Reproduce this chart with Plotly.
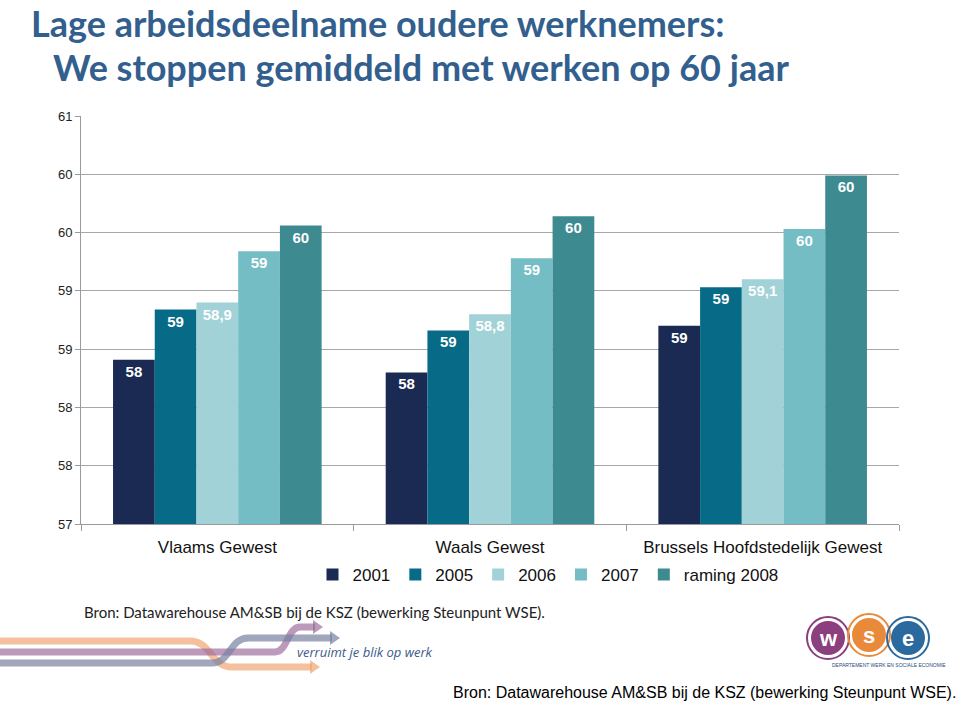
import plotly.graph_objects as go

# ---- data ----
categories = ["Vlaams Gewest", "Waals Gewest", "Brussels Hoofdstedelijk Gewest"]
series_names = ["2001", "2005", "2006", "2007", "raming 2008"]
values_2001 = [58.41, 58.30, 58.70]
values_2005 = [58.84, 58.66, 59.03]
values_2006 = [58.90, 58.80, 59.10]
values_2007 = [59.34, 59.28, 59.53]
values_2008 = [59.56, 59.64, 59.99]
labels_2001 = ["58", "58", "59"]
labels_2005 = ["59", "59", "59"]
labels_2006 = ["58,9", "58,8", "59,1"]
labels_2007 = ["59", "59", "60"]
labels_2008 = ["60", "60", "60"]
y_tickvals = [57, 57.5, 58, 58.5, 59, 59.5, 60, 60.5]
y_ticktext = ["57", "58", "58", "59", "59", "60", "60", "61"]

colors = ["#1B2A52", "#076B87", "#A1D2D7", "#74BDC4", "#3E8A91"]
all_values = [values_2001, values_2005, values_2006, values_2007, values_2008]
all_labels = [labels_2001, labels_2005, labels_2006, labels_2007, labels_2008]

W, H = 960, 703
L, R, T, B = 81, 899, 116, 524


def px(x):
    return (x - L) / (R - L)


def py(y):
    return (B - y) / (B - T)


fig = go.Figure()
for name, vals, labs, col in zip(series_names, all_values, all_labels, colors):
    fig.add_trace(go.Bar(
        name=name, x=categories, y=vals, text=labs,
        textposition="inside", insidetextanchor="end", textangle=0,
        texttemplate="%{text}",
        textfont=dict(family="Liberation Sans", size=15, color="white", weight="bold"),
        marker=dict(color=col, line=dict(width=0)),
        cliponaxis=True,
    ))

shapes = []
# decorative arrows (bottom-left logo)
arrow_specs = [
    ("rgba(240,165,115,0.7)", [(0, 641), (190, 641), (232, 667), (312, 667)], (320, 667)),
    ("rgba(150,100,150,0.65)", [(0, 652), (275, 652), (300, 627), (315, 627)], (323, 627)),
    ("rgba(120,130,160,0.7)", [(0, 663), (212, 663), (248, 638), (332, 638)], (340, 638)),
]
for col, pts, tip in arrow_specs:
    (x0, y0), (x1, y1), (x2, y2), (x3, y3) = pts
    xm = (x1 + x2) / 2
    path = (f"M {px(x0)},{py(y0)} L {px(x1)},{py(y1)} "
            f"C {px(xm)},{py(y1)} {px(xm)},{py(y2)} {px(x2)},{py(y2)} "
            f"L {px(x3)},{py(y3)}")
    shapes.append(dict(type="path", xref="paper", yref="paper", path=path,
                       line=dict(color=col, width=7), layer="above"))
    tx, ty = tip
    tri = (f"M {px(tx - 10)},{py(ty - 7)} L {px(tx)},{py(ty)} "
           f"L {px(tx - 10)},{py(ty + 7)} Z")
    shapes.append(dict(type="path", xref="paper", yref="paper", path=tri,
                       fillcolor=col, line=dict(width=0), layer="above"))

# wse logo circles
logo = [("#8B3F7E", 828, 638, "w"), ("#E98A3B", 869, 635, "s"), ("#2A6A9E", 908, 638, "e")]
for col, cx, cy, _ in logo:
    r = 17
    shapes.append(dict(type="circle", xref="paper", yref="paper",
                       x0=px(cx - r - 4), x1=px(cx + r + 4), y0=py(cy + r + 4), y1=py(cy - r - 4),
                       line=dict(color=col, width=2), fillcolor="rgba(0,0,0,0)", layer="above"))
    shapes.append(dict(type="circle", xref="paper", yref="paper",
                       x0=px(cx - r), x1=px(cx + r), y0=py(cy + r), y1=py(cy - r),
                       line=dict(width=0), fillcolor=col, layer="above"))

annotations = [
    dict(text="Lage arbeidsdeelname oudere werknemers:", xref="paper", yref="paper",
         x=px(30), y=py(0), xanchor="left", yanchor="top", showarrow=False, borderpad=0,
         font=dict(family="Lato", size=36, color="#325F8E", weight="bold")),
    dict(text="We stoppen gemiddeld met werken op 60 jaar", xref="paper", yref="paper",
         x=px(52), y=py(44), xanchor="left", yanchor="top", showarrow=False, borderpad=0,
         font=dict(family="Lato", size=36, color="#325F8E", weight="bold")),
    dict(text="Bron: Datawarehouse AM&SB bij de KSZ (bewerking Steunpunt WSE).", xref="paper", yref="paper",
         x=px(82), y=py(612), xanchor="left", yanchor="middle", showarrow=False,
         font=dict(family="Lato", size=15, color="#222222")),
    dict(text="verruimt je blik op werk", xref="paper", yref="paper",
         x=px(295), y=py(652), xanchor="left", yanchor="middle", showarrow=False,
         font=dict(family="Open Sans", size=13, color="#3C5A8A", style="italic")),
    dict(text="DEPARTEMENT WERK EN SOCIALE ECONOMIE", xref="paper", yref="paper",
         x=px(889), y=py(665), xanchor="center", yanchor="middle", showarrow=False,
         font=dict(family="Liberation Sans", size=5, color="#2A4A7A")),
    dict(text="Bron: Datawarehouse AM&SB bij de KSZ (bewerking Steunpunt WSE).", xref="paper", yref="paper",
         x=px(958), y=py(692), xanchor="right", yanchor="middle", showarrow=False,
         font=dict(family="Liberation Sans", size=16, color="#000000")),
]
for col, cx, cy, letter in logo:
    annotations.append(dict(text=letter, xref="paper", yref="paper", x=px(cx), y=py(cy),
                            xanchor="center", yanchor="middle", showarrow=False,
                            font=dict(family="Liberation Sans", size=22, color="white", weight="bold")))

fig.update_layout(
    width=W, height=H,
    margin=dict(l=L, r=W - R, t=T, b=H - B),
    paper_bgcolor="white", plot_bgcolor="white",
    barmode="group", bargap=0.235, bargroupgap=0,
    showlegend=True,
    legend=dict(orientation="h", x=px(548), y=py(575), xanchor="center", yanchor="middle",
                font=dict(family="Liberation Sans", size=17, color="#111111"),
                tracegroupgap=0, traceorder="normal"),
    xaxis=dict(showline=True, linecolor="#9A9A9A", linewidth=1,
               ticks="outside", tickson="boundaries", ticklen=6, tickcolor="#9A9A9A",
               ticklabelstandoff=8,
               tickfont=dict(family="Liberation Sans", size=17, color="#111111"),
               showgrid=False),
    yaxis=dict(range=[57, 60.5], tickvals=y_tickvals, ticktext=y_ticktext,
               showline=True, linecolor="#9A9A9A", linewidth=1,
               ticks="outside", ticklen=5, tickcolor="#9A9A9A",
               showgrid=True, gridcolor="#A8A8A8", gridwidth=1,
               tickfont=dict(family="Liberation Sans", size=13, color="#222222"),
               zeroline=False),
    shapes=shapes,
    annotations=annotations,
)

fig.write_html("out.html", config={"displayModeBar": False},
               post_script="document.body.style.margin='0';document.body.style.overflow='hidden';")
